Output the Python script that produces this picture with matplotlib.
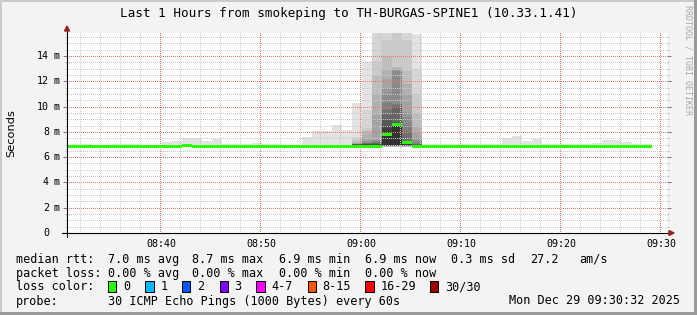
import matplotlib
matplotlib.use("Agg")
import matplotlib.pyplot as plt
import matplotlib.dates as mdates
import matplotlib.transforms as mtransforms
from matplotlib.patches import Rectangle, Polygon
from matplotlib.ticker import MultipleLocator
from datetime import datetime, timedelta
import numpy as np

title = "Last 1 Hours from smokeping to TH-BURGAS-SPINE1 (10.33.1.41)"
t_start = datetime(2025, 12, 29, 8, 30, 32)
t_end = datetime(2025, 12, 29, 9, 30, 32)
first_bucket = datetime(2025, 12, 29, 8, 30)   # one bucket per minute

# median rtt per minute (ms), 08:30 ... 09:28
median_ms = [
    6.88, 6.88, 6.88, 6.84, 6.84, 6.88, 6.88, 6.88, 6.84, 6.84,   # 08:30
    6.88, 6.88, 6.96, 6.88, 6.88, 6.88, 6.88, 6.88, 6.88, 6.88,   # 08:40
    6.88, 6.88, 6.84, 6.84, 6.88, 6.88, 6.88, 6.88, 6.88, 6.88,   # 08:50
    6.88, 6.88, 7.81, 8.62, 7.16, 6.88, 6.88, 6.88, 6.88, 6.88,   # 09:00
    6.88, 6.88, 6.88, 6.88, 6.88, 6.84, 6.84, 6.84, 6.84, 6.84,   # 09:10
    6.84, 6.84, 6.84, 6.88, 6.88, 6.88, 6.88, 6.84, 6.84,         # 09:20
]

# slowest / fastest ping per minute (ms)
ping_max = [
    6.98, 7.04, 7.04, 6.96, 6.96, 7.04, 7.04, 7.04, 7.00, 6.98,
    7.20, 7.30, 7.50, 7.50, 7.30, 7.40, 7.04, 7.04, 7.04, 7.10,
    7.04, 7.04, 6.98, 7.00, 7.60, 8.10, 8.10, 8.55, 8.15, 10.30,
    13.60, 17.50, 18.00, 18.00, 17.50, 15.75, 7.04, 7.04, 7.04, 7.04,
    7.04, 7.04, 7.04, 7.04, 7.50, 7.67, 7.28, 7.44, 7.04, 7.04,
    7.04, 7.04, 7.04, 7.12, 7.36, 7.36, 7.20, 7.04, 7.04,
]
ping_min = [
    6.80, 6.80, 6.80, 6.76, 6.76, 6.80, 6.80, 6.80, 6.76, 6.76,
    6.80, 6.80, 6.84, 6.80, 6.80, 6.80, 6.80, 6.80, 6.80, 6.80,
    6.80, 6.80, 6.76, 6.76, 6.80, 6.80, 6.80, 6.80, 6.80, 6.80,
    6.80, 6.80, 6.80, 6.80, 6.80, 6.80, 6.80, 6.80, 6.80, 6.80,
    6.80, 6.80, 6.80, 6.80, 6.80, 6.76, 6.76, 6.76, 6.76, 6.76,
    6.76, 6.76, 6.76, 6.80, 6.80, 6.80, 6.80, 6.76, 6.76,
]

# during the burst: the fast half of the 30 pings stayed near 6.9 ms
burst_low = [6.80, 6.82, 6.83, 6.84, 6.85, 6.86, 6.87, 6.88, 6.89, 6.90,
             6.91, 6.92, 6.94, 6.96, 6.98]
# ... and the slow half (sorted) for each minute of the burst
burst_high = {
    "08:59": [6.99, 7.00, 7.00, 7.01, 7.02, 7.03, 7.04, 7.05, 7.06, 7.08,
              7.15, 7.30, 7.45, 7.60, 10.30],
    "09:00": [6.99, 7.00, 7.02, 7.04, 7.06, 7.10, 7.15, 7.20, 7.30, 7.50,
              7.80, 8.10, 8.30, 9.70, 13.60],
    "09:01": [6.99, 7.00, 7.02, 7.05, 7.10, 7.15, 7.20, 7.30, 7.35, 9.30,
              11.00, 12.50, 13.60, 16.50, 17.50],
    "09:02": [7.90, 8.30, 8.50, 8.90, 9.30, 9.70, 10.30, 10.90, 11.50, 12.20,
              12.90, 14.00, 15.30, 16.50, 18.00],
    "09:03": [8.60, 8.65, 8.70, 8.80, 10.00, 10.10, 10.20, 12.80, 12.90, 13.00,
              13.05, 13.10, 16.00, 17.00, 18.00],
    "09:04": [7.00, 7.05, 7.12, 7.20, 7.25, 8.00, 8.57, 9.20, 9.60, 10.90,
              11.80, 12.80, 15.30, 16.50, 17.50],
    "09:05": [6.99, 6.99, 7.00, 7.00, 7.02, 7.05, 7.15, 7.30, 7.50, 7.90,
              8.50, 9.50, 11.00, 13.00, 15.75],
}

loss_labels = ["0", "1", "2", "3", "4-7", "8-15", "16-29", "30/30"]
loss_colors = ["#26ff00", "#00b8ff", "#0059ff", "#7e00ff", "#ff00ff",
               "#ff5500", "#ff0000", "#a10000"]

stats_rtt = ["7.0 ms avg", "8.7 ms max", "6.9 ms min", "6.9 ms now", "0.3 ms sd", "27.2", "am/s"]
stats_loss = ["0.00 % avg", "0.00 % max", "0.00 % min", "0.00 % now"]
probe_text = "30 ICMP Echo Pings (1000 Bytes) every 60s"
stamp = "Mon Dec 29 09:30:32 2025"

MONO = "DejaVu Sans Mono"
W, H = 697, 315
PW, PH = 600, 200          # plot area in pixels
YMAX = 15.82
PINGS = 30
HALF = PINGS // 2

fig = plt.figure(figsize=(W / 100, H / 100), dpi=100)
fig.patch.set_facecolor("#f3f3f3")
ax = fig.add_axes([67 / W, (H - 233) / H, PW / W, PH / H])
ax.set_facecolor("white")

x = [mdates.date2num(first_bucket + timedelta(minutes=i)) for i in range(len(median_ms))]
bw = 1 / 1440


def grey(ibot):
    v = int(190 / HALF * (HALF - ibot)) + 50
    return "#%02x%02x%02x" % (v, v, v)


# smoke: quiet minutes just the min-max band
lo = np.array(ping_min)
hi = np.array(ping_max)
ax.bar(x, hi - lo, bottom=lo, width=bw, align="edge", color=grey(1), lw=0, zorder=1)

# burst minutes: nested bands like smokeping draws them
for label, high in burst_high.items():
    hh, mm = map(int, label.split(":"))
    k = (hh * 60 + mm) - (8 * 60 + 30)
    pings = sorted(burst_low + high)
    for ibot in range(1, HALF + 1):
        itop = PINGS + 1 - ibot
        b = pings[ibot - 1]
        ax.bar(x[k], pings[itop - 1] - b, bottom=b, width=bw, align="edge",
               color=grey(ibot), lw=0, zorder=1)

# dotted rrdtool grid, built pixel by pixel so the dots stay crisp
# (opaque dots, transparent elsewhere)
grid_img = np.zeros((PH, PW, 4), dtype=np.uint8)
minor_c = (200, 200, 200, 255)
major_c = (240, 115, 115, 255)
for m in range(0, 62, 2):
    t = first_bucket + timedelta(minutes=m)
    c = int((t - t_start).total_seconds() / 6) - 1
    if 0 <= c < PW:
        grid_img[::2, c] = major_c if t.minute % 10 == 0 else minor_c
for i in range(1, int(YMAX / 0.5) + 1):
    v = i * 0.5
    r = PH - int(round(v * PH / YMAX))
    if 0 <= r < PH:
        grid_img[r, ::2] = major_c if i % 4 == 0 else minor_c
ax.imshow(grid_img, extent=(0, 1, 0, 1), transform=ax.transAxes,
          interpolation="none", aspect="auto", zorder=2)

# median band, 3 px tall
band = 3 * YMAX / PH
med = np.array(median_ms)
ax.bar(x, band, bottom=med - band / 2, width=bw, align="edge",
       color=loss_colors[0], lw=0, zorder=3)

ax.set_xlim(mdates.date2num(t_start), mdates.date2num(t_end))
ax.set_ylim(0, YMAX)

ax.xaxis.set_major_locator(mdates.MinuteLocator(byminute=range(0, 60, 10)))
ax.xaxis.set_major_formatter(mdates.DateFormatter("%H:%M"))
ax.yaxis.set_major_locator(MultipleLocator(2))
ax.yaxis.set_minor_locator(MultipleLocator(0.5))

for s in ax.spines.values():
    s.set_visible(False)

ax.tick_params(axis="x", which="both", length=0, pad=4, labelsize=7.2)
for t in ax.get_xticklabels():
    t.set_family(MONO)
ax.tick_params(axis="y", which="major", direction="out", length=2.9, width=0.72,
               color="#777777", left=True, right=True, labelleft=False)
ax.tick_params(axis="y", which="minor", direction="out", length=1.5, width=0.72,
               color="#bbbbbb", left=True, right=True)

# y labels: number right-aligned, unit in its own column
ytrans = mtransforms.blended_transform_factory(ax.transAxes, ax.transData)
for v in range(0, 16, 2):
    ax.text(-18 / PW, v, str(v), transform=ytrans, ha="right", va="center",
            fontsize=7.2, family=MONO)
    if v:
        ax.text(-13.5 / PW, v, "m", transform=ytrans, ha="left", va="center",
                fontsize=7.2, family=MONO)

# axis lines with arrows
ax.plot([-5 / PW, 1 + 3 / PW], [0, 0], transform=ax.transAxes, color="black",
        lw=0.8, clip_on=False, zorder=5)
ax.plot([0, 0], [-4 / PH, 1 + 3 / PH], transform=ax.transAxes, color="black",
        lw=0.8, clip_on=False, zorder=5)
arrow_c = "#9a1e1e"
ax.add_patch(Polygon([(1 + 7 / PW, 0), (1 + 2 / PW, 2.5 / PH), (1 + 2 / PW, -2.5 / PH)],
                     closed=True, transform=ax.transAxes, color=arrow_c, clip_on=False, zorder=6))
ax.add_patch(Polygon([(0, 1 + 7 / PH), (-2.5 / PW, 1 + 2 / PH), (2.5 / PW, 1 + 2 / PH)],
                     closed=True, transform=ax.transAxes, color=arrow_c, clip_on=False, zorder=6))


def px(xp, yp):
    return xp / W, 1 - yp / H


fig.text(*px(348.5, 14), title, ha="center", va="center", fontsize=9.1, family=MONO)
fig.text(*px(11, 133), "Seconds", rotation=90, ha="center", va="center",
         fontsize=8.2, family="DejaVu Sans")
fig.text(*px(688, 60), "RRDTOOL / TOBI OETIKER", rotation=270, ha="center", va="center",
         fontsize=6, color="#a8a8a8", family=MONO)

LEG = 8.45
rows = [259.3, 273.3, 286.7, 301]
cols = [107.6, 192.4, 279, 365, 451, 530, 579]
fig.text(*px(16, rows[0]), "median rtt:", va="center", fontsize=LEG, family=MONO)
for cx, s in zip(cols, stats_rtt):
    fig.text(*px(cx, rows[0]), s, va="center", fontsize=LEG, family=MONO)
fig.text(*px(16, rows[1]), "packet loss:", va="center", fontsize=LEG, family=MONO)
for cx, s in zip(cols, stats_loss):
    fig.text(*px(cx, rows[1]), s, va="center", fontsize=LEG, family=MONO)
fig.text(*px(16, rows[2]), "loss color:", va="center", fontsize=LEG, family=MONO)
box_x = [108, 145.3, 182, 219.6, 256.4, 307.6, 365.3, 429.8]
for bx, lab, c in zip(box_x, loss_labels, loss_colors):
    fig.add_artist(Rectangle(px(bx, rows[2] + 5.5), 8.4 / W, 11 / H, transform=fig.transFigure,
                             facecolor=c, edgecolor="black", lw=0.72))
    fig.text(*px(bx + 15, rows[2]), lab, va="center", fontsize=LEG, family=MONO)
fig.text(*px(16, rows[3]), "probe:", va="center", fontsize=LEG, family=MONO)
fig.text(*px(107.6, rows[3]), probe_text, va="center", fontsize=LEG, family=MONO)
fig.text(*px(680, rows[3]), stamp, ha="right", va="center", fontsize=LEG, family=MONO)

# 3d frame
fig.add_artist(Rectangle((0, 0), 2 / W, 1, transform=fig.transFigure, color="#cbcbcb", lw=0))
fig.add_artist(Rectangle((0, 1 - 2 / H), 1, 2 / H, transform=fig.transFigure, color="#cbcbcb", lw=0))
fig.add_artist(Rectangle((1 - 3 / W, 0), 3 / W, 1, transform=fig.transFigure, color="#999999", lw=0))
fig.add_artist(Rectangle((0, 0), 1, 3 / H, transform=fig.transFigure, color="#999999", lw=0))

fig.savefig("out.png", dpi=100, facecolor=fig.get_facecolor())
